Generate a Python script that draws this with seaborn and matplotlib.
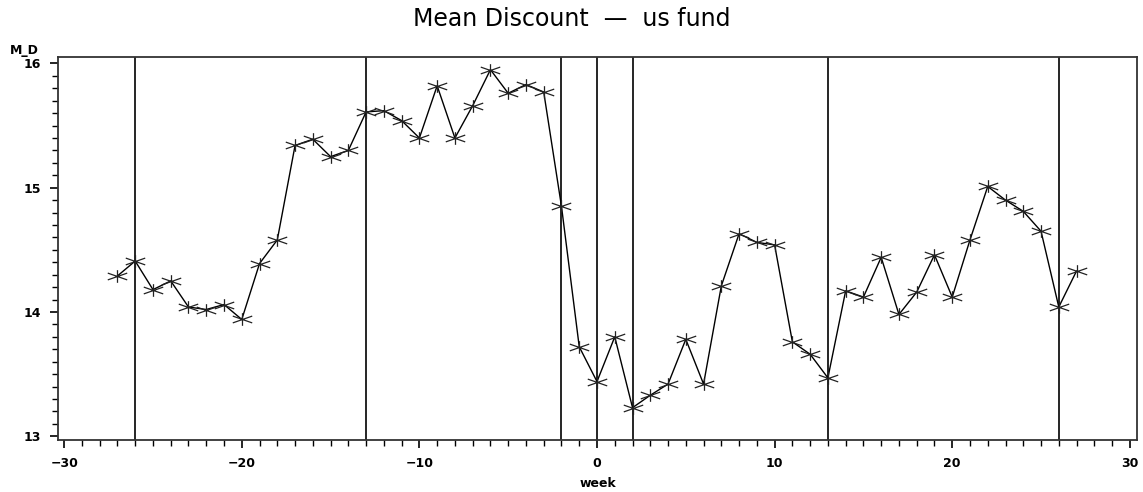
import numpy as np
import pandas as pd
import matplotlib
matplotlib.use("Agg")
import matplotlib.pyplot as plt
from matplotlib.path import Path
from matplotlib.ticker import MultipleLocator
import seaborn as sns

sns.set_style("ticks")
plt.rcParams["font.family"] = ["DejaVu Sans"]
plt.rcParams["text.color"] = "black"
plt.rcParams["xtick.color"] = "black"
plt.rcParams["ytick.color"] = "black"
plt.rcParams["axes.labelcolor"] = "black"

# ====================================
# DATA
# ====================================

weeks = list(range(-27, 28))

mean_discount = [
    14.29, 14.41, 14.18, 14.25, 14.04, 14.02, 14.06, 13.94, 14.39, 14.58,
    15.34, 15.39, 15.25, 15.30, 15.61, 15.62, 15.54, 15.40, 15.82, 15.40,
    15.66, 15.95, 15.76, 15.83, 15.77, 14.85, 13.72, 13.44, 13.80, 13.23,
    13.33, 13.42, 13.78, 13.42, 14.21, 14.63, 14.56, 14.54, 13.76, 13.66,
    13.47, 14.17, 14.12, 14.44, 13.98, 14.16, 14.46, 14.12, 14.58, 15.01,
    14.90, 14.81, 14.65, 14.04, 14.33,
]

event_weeks = [-26, -13, -2, 0, 2, 13, 26]

x_ticks = [-30, -20, -10, 0, 10, 20, 30]
x_tick_labels = ["\u221230", "\u221220", "\u221210", "0", "10", "20", "30"]
y_ticks = [13, 14, 15, 16]
y_tick_labels = ["13", "14", "15", "16"]

df = pd.DataFrame({"week": weeks, "M_D": mean_discount})

# star symbol: one vertical arm and two flat diagonals
star = Path(
    [(0, -0.65), (0, 0.65), (-1, -0.35), (1, 0.35), (-1, 0.35), (1, -0.35)],
    [Path.MOVETO, Path.LINETO, Path.MOVETO, Path.LINETO, Path.MOVETO, Path.LINETO],
)

# ====================================
# PLOT
# ====================================

fig = plt.figure(figsize=(11.43, 4.92), dpi=100)
ax = fig.add_axes([0.0507, 0.1057, 0.944, 0.778])

for w in event_weeks:
    ax.axvline(w, color="black", linewidth=1.2, zorder=1)

sns.lineplot(
    data=df,
    x="week",
    y="M_D",
    color="black",
    linewidth=1.0,
    marker=star,
    markersize=14,
    markerfacecolor="none",
    markeredgecolor="#222222",
    markeredgewidth=0.9,
    ax=ax,
    zorder=3,
)

ax.set_xlim(-30.35, 30.4)
ax.set_ylim(12.97, 16.05)

ax.set_xticks(x_ticks)
ax.set_xticklabels(x_tick_labels, fontweight="bold")
ax.set_yticks(y_ticks)
ax.set_yticklabels(y_tick_labels, fontweight="bold")
ax.xaxis.set_minor_locator(MultipleLocator(1))
ax.yaxis.set_minor_locator(MultipleLocator(0.1))

ax.tick_params(which="major", length=6, width=1.2, color="black",
               labelsize=9, pad=6)
ax.tick_params(which="minor", length=4, width=1.0, color="black")

for sp in ax.spines.values():
    sp.set_visible(True)
    sp.set_color("#333333")
    sp.set_linewidth(1.3)

ax.set_xlabel("week", fontsize=9, fontweight="bold", labelpad=5)
ax.set_ylabel("")
fig.text(0.009, 0.897, "M_D", fontsize=9, fontweight="bold",
         ha="left", va="center")

fig.suptitle("Mean Discount  \u2014  us fund", fontsize=17, y=0.985)

fig.savefig("out.png", dpi=100)
plt.close()
